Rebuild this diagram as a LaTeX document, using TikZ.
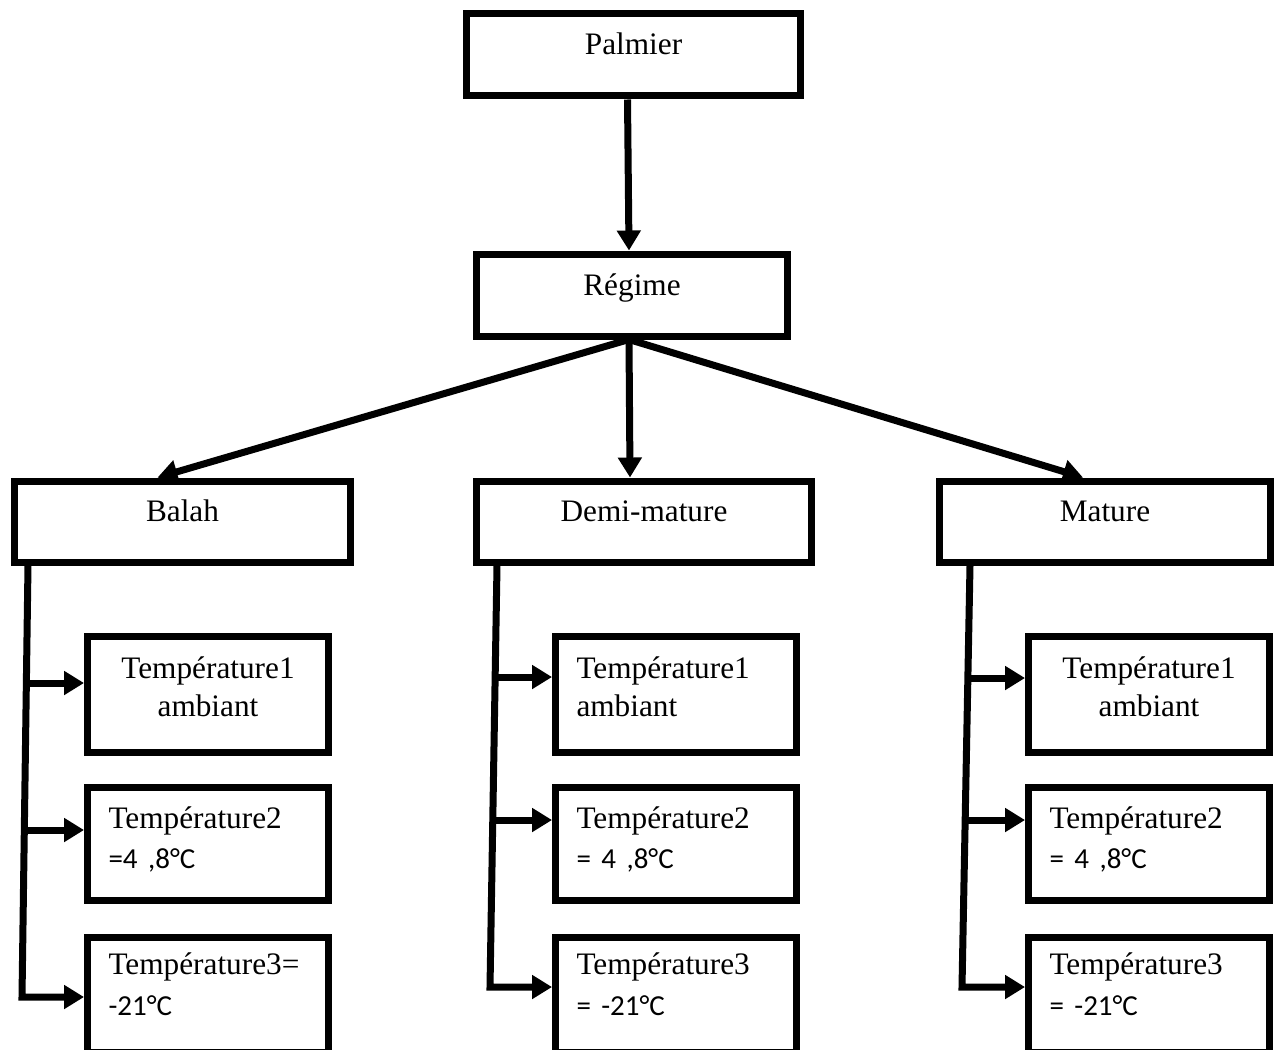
\documentclass[tikz,border=0pt]{standalone}
\usepackage{fontspec}
\setmainfont{Liberation Serif}
\newfontfamily\calib{Carlito}
\usetikzlibrary{arrows.meta}
\newcommand{\valtxt}[1]{{\calib\fontsize{16.5}{20}\selectfont #1}}
\newcommand{\dpt}[1]{\rule[-#1]{0pt}{#1}}

\begin{document}
\begin{tikzpicture}[x=0.02cm,y=-0.02cm,font=\fontsize{17.8}{22}\selectfont,
  box/.style={draw,line width=0.14cm,minimum height=1.62cm,text height=0.43cm,text depth=0.43cm},
  tbox/.style={draw,line width=0.14cm,text width=3.98cm,inner xsep=0.42cm,inner ysep=0.1cm,align=left},
  arr/.style={line width=0.14cm,-{Triangle[length=0.4cm,width=0.46cm]}}]
\clip (0,0) rectangle (1277,1049);
\node[box,minimum width=6.7cm,minimum height=1.66cm] (palmier) at (633.5,54.5) {Palmier};
\node[box,minimum width=6.24cm,minimum height=1.64cm] (regime) at (632,295) {Régime};
\node[box,minimum width=6.74cm] (balah) at (182.5,521.5) {Balah};
\node[box,minimum width=6.72cm] (demi) at (644,521.5) {Demi-mature};
\node[box,minimum width=6.64cm] (mature) at (1105,521.5) {Mature};

\node[tbox,align=center,minimum height=2.32cm] (bal1) at (208,694) {Température1\\ambiant\dpt{0.29cm}};
\node[tbox,minimum height=2.26cm] (bal2) at (208,843.5) {Température2\\[1pt]\valtxt{=4 ,8°C}\dpt{0.23cm}};
\node[tbox,minimum height=2.3cm] (bal3) at (208,994.5) {Température3=\\[1pt]\valtxt{-21°C}\dpt{0.41cm}};

\node[tbox,minimum height=2.32cm] (dem1) at (676,694) {Température1\\ambiant\dpt{0.29cm}};
\node[tbox,minimum height=2.26cm] (dem2) at (676,843.5) {Température2\\[1pt]\valtxt{= 4 ,8°C}\dpt{0.23cm}};
\node[tbox,minimum height=2.3cm] (dem3) at (676,994.5) {Température3\\[1pt]\valtxt{= -21°C}\dpt{0.41cm}};

\node[tbox,align=center,minimum height=2.32cm] (mat1) at (1149,694) {Température1\\ambiant\dpt{0.29cm}};
\node[tbox,minimum height=2.26cm] (mat2) at (1149,843.5) {Température2\\[1pt]\valtxt{= 4 ,8°C}\dpt{0.23cm}};
\node[tbox,minimum height=2.3cm] (mat3) at (1149,994.5) {Température3\\[1pt]\valtxt{= -21°C}\dpt{0.41cm}};

\coordinate (bk0) at (28,0); \coordinate (bk1) at (26,683); \coordinate (bk2) at (24,830); \coordinate (bk3) at (22,997);
\coordinate (dk0) at (497,0); \coordinate (dk1) at (495,677); \coordinate (dk2) at (494,820); \coordinate (dk3) at (490,987);
\coordinate (mk0) at (970,0); \coordinate (mk1) at (968,678); \coordinate (mk2) at (966,820); \coordinate (mk3) at (962,987);

\draw[arr] ([xshift=-0.12cm]palmier.south) -- ([xshift=-0.06cm]regime.north);
\draw[arr] ([xshift=-0.06cm]regime.south) -- ([xshift=-0.5cm]balah.north);
\draw[arr] ([xshift=-0.06cm]regime.south) -- ([xshift=-0.28cm]demi.north);
\draw[arr] ([xshift=-0.06cm]regime.south) -- ([xshift=-0.44cm]mature.north);

\draw[arr] (balah.south -| bk0) -- (bk3) -- (bal3.west |- bk3);
\draw[arr] (bk1) -- (bal1.west |- bk1);
\draw[arr] (bk2) -- (bal2.west |- bk2);
\draw[arr] (demi.south -| dk0) -- (dk3) -- (dem3.west |- dk3);
\draw[arr] (dk1) -- (dem1.west |- dk1);
\draw[arr] (dk2) -- (dem2.west |- dk2);
\draw[arr] (mature.south -| mk0) -- (mk3) -- (mat3.west |- mk3);
\draw[arr] (mk1) -- (mat1.west |- mk1);
\draw[arr] (mk2) -- (mat2.west |- mk2);
\end{tikzpicture}
\end{document}
